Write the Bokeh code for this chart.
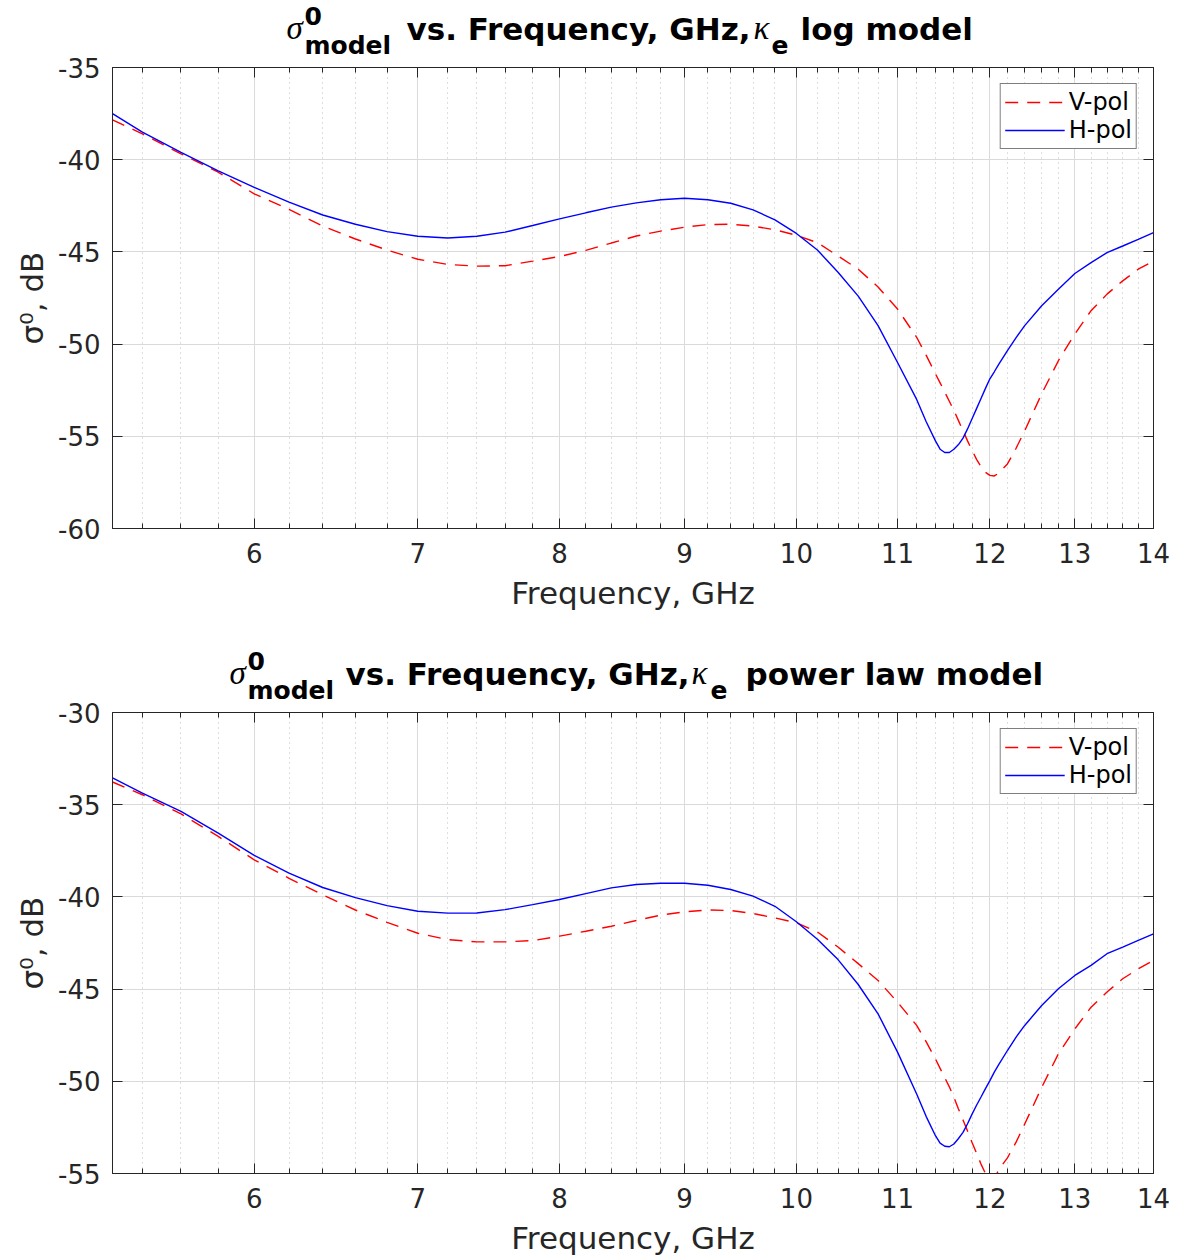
from bokeh.plotting import figure
from bokeh.layouts import column
from bokeh.models import (FixedTicker, LogAxis, LinearAxis, Range1d,
                          Legend, LegendItem, PrintfTickFormatter,
                          CustomJSTickFormatter, ColumnDataSource)
from bokeh.core.properties import value
from bokeh.embed import file_html
from bokeh.resources import INLINE

# ---------------- data ----------------
freq_ghz = [5.25, 5.4, 5.6, 5.8, 6.0, 6.2, 6.4, 6.6, 6.8, 7.0, 7.2, 7.4, 7.6, 7.8,
            8.0, 8.2, 8.4, 8.6, 8.8, 9.0, 9.2, 9.4, 9.6, 9.8, 10.0, 10.2, 10.4,
            10.6, 10.8, 11.0, 11.2, 11.3, 11.4, 11.45, 11.5, 11.55, 11.6, 11.65,
            11.7, 11.75, 11.8, 11.85, 11.9, 11.95, 12.0, 12.05, 12.1, 12.2,
            12.3, 12.4, 12.6, 12.8, 13.0, 13.2, 13.4, 13.6, 13.8, 14.0]

log_vpol = [-37.84, -38.6, -39.68, -40.68, -41.85, -42.7, -43.6, -44.3, -44.9,
            -45.4, -45.68, -45.77, -45.75, -45.5, -45.25, -44.92, -44.52,
            -44.14, -43.87, -43.66, -43.52, -43.5, -43.6, -43.8, -44.1, -44.5,
            -45.22, -45.94, -46.9, -48.1, -49.63, -50.6, -51.61, -52.1, -52.6,
            -53.1, -53.6, -54.15, -54.7, -55.25, -55.76, -56.25, -56.65,
            -56.95, -57.12, -57.15, -57.0, -56.5, -55.65, -54.7, -52.7, -50.9,
            -49.45, -48.19, -47.29, -46.57, -45.94, -45.49]

log_hpol = [-37.5, -38.5, -39.6, -40.6, -41.5, -42.3, -43.0, -43.5, -43.9,
            -44.15, -44.25, -44.15, -43.93, -43.57, -43.21, -42.88, -42.57,
            -42.34, -42.17, -42.09, -42.17, -42.36, -42.72, -43.26, -44.0,
            -44.9, -46.1, -47.4, -49.0, -51.0, -53.0, -54.2, -55.25, -55.7,
            -55.88, -55.88, -55.7, -55.45, -55.1, -54.6, -54.05, -53.5, -52.95,
            -52.4, -51.88, -51.5, -51.1, -50.35, -49.65, -49.0, -47.92, -47.02,
            -46.17, -45.58, -45.04, -44.68, -44.32, -43.95]

pow_vpol = [-33.77, -34.46, -35.5, -36.72, -37.99, -38.99, -39.89, -40.71,
            -41.38, -41.97, -42.32, -42.44, -42.44, -42.37, -42.13, -41.86,
            -41.59, -41.28, -40.99, -40.81, -40.71, -40.74, -40.9, -41.14,
            -41.4, -41.9, -42.72, -43.62, -44.53, -45.71, -46.97, -47.85,
            -48.79, -49.3, -49.8, -50.3, -50.87, -51.5, -52.1, -52.7, -53.32,
            -53.9, -54.49, -55.0, -55.35, -55.3, -54.8, -54.15, -53.3, -52.32,
            -50.33, -48.51, -47.16, -45.98, -45.16, -44.44, -43.9, -43.44]

pow_hpol = [-33.55, -34.37, -35.36, -36.54, -37.75, -38.71, -39.49, -40.04,
            -40.47, -40.78, -40.88, -40.87, -40.69, -40.42, -40.14, -39.82,
            -39.51, -39.33, -39.26, -39.26, -39.37, -39.6, -39.96, -40.51,
            -41.35, -42.3, -43.4, -44.75, -46.34, -48.42, -50.69, -51.9,
            -52.95, -53.35, -53.52, -53.55, -53.4, -53.1, -52.77, -52.3,
            -51.78, -51.3, -50.85, -50.4, -49.96, -49.5, -49.1, -48.33, -47.6,
            -46.97, -45.89, -44.98, -44.26, -43.71, -43.08, -42.72, -42.36,
            -42.0]

x_major_ticks = [6, 7, 8, 9, 10, 11, 12, 13, 14]
x_minor_ticks = [5.4, 5.6, 5.8, 6.2, 6.4, 6.6, 6.8, 7.2, 7.4, 7.6, 7.8,
                 8.2, 8.4, 8.6, 8.8, 9.2, 9.4, 9.6, 9.8, 10.2, 10.4, 10.6,
                 10.8, 11.2, 11.4, 11.6, 11.8, 12.2, 12.4, 12.6, 12.8, 13.2,
                 13.4, 13.6, 13.8]
top_y_ticks = [-60, -55, -50, -45, -40, -35]
bottom_y_ticks = [-55, -50, -45, -40, -35, -30]
legend_labels = ["V-pol", "H-pol"]
x_label = "Frequency, GHz"
y_label = "\u03c3\u2070, dB"
title_sym = "\u03c3"
title_sup = "0"
title_sub = "model"
title_mid = "vs. Frequency, GHz,"
title_kappa = "\u03ba"
title_kappa_sub = "e"
top_title_tail = "log model"
bottom_title_tail = "power law model"

# ---------------- styling ----------------
FONT = "DejaVu Sans"
GREEK = "Liberation Serif"
AX = "#262626"
FRAME_W, FRAME_H = 1041, 461
LEFT, RIGHT = 112, 29
OVERLAP = 30


def make_title(height, page_top, xs, base, tail):
    # frame spans page x LEFT..LEFT+FRAME_W and page y page_top..page_top+height
    t = figure(frame_width=FRAME_W, frame_height=height,
               x_range=Range1d(LEFT, LEFT + FRAME_W),
               y_range=Range1d(page_top + height, page_top),
               output_backend="svg", toolbar_location=None,
               min_border_left=LEFT, min_border_right=RIGHT,
               min_border_top=0, min_border_bottom=0)
    t.axis.visible = False
    t.grid.visible = False
    t.outline_line_color = None
    big, small = 31, 25
    pieces = [
        (title_sym, xs["sigma"], base, GREEK, 33, "italic"),
        (title_sup, xs["sup"], base - 15, FONT, small, "bold"),
        (title_sub, xs["sup"], base + 14, FONT, small, "bold"),
        (title_mid, xs["vs"], base, FONT, big, "bold"),
        (title_kappa, xs["kappa"], base, GREEK, 33, "italic"),
        (title_kappa_sub, xs["e"], base + 14, FONT, small, "bold"),
        (tail, xs["tail"], base, FONT, big, "bold"),
    ]
    for txt, x, y, fnt, size, style in pieces:
        t.text(x=[x], y=[y - 0.38 * size], text=[txt], text_font=value(fnt),
               text_font_size=value(f"{size}px"), text_font_style=style,
               text_color="black", text_align="left",
               text_baseline="alphabetic")
    return t


def make_panel(vpol, hpol, yticks, border_top, border_bottom):
    p = figure(x_axis_type="log", frame_width=FRAME_W, frame_height=FRAME_H,
               x_range=Range1d(5.25, 14), y_range=Range1d(yticks[0], yticks[-1]),
               output_backend="svg", toolbar_location=None,
               min_border_left=LEFT, min_border_right=RIGHT,
               min_border_top=border_top, min_border_bottom=border_bottom,
               background_fill_color="white", border_fill_color=None,
               margin=(-OVERLAP, 0, 0, 0))
    p.outline_line_color = AX
    p.outline_line_width = 1

    xt = FixedTicker(ticks=x_major_ticks, minor_ticks=x_minor_ticks)
    yt = FixedTicker(ticks=yticks, minor_ticks=[])

    def style_axis(ax, labels=True):
        ax.axis_line_color = AX
        ax.major_tick_line_color = AX
        ax.minor_tick_line_color = AX
        ax.major_tick_in = 10
        ax.major_tick_out = 0
        ax.minor_tick_in = 5
        ax.minor_tick_out = 0
        ax.major_label_text_font = FONT
        ax.major_label_text_font_size = "26px"
        ax.major_label_text_color = AX
        if not labels:
            ax.formatter = CustomJSTickFormatter(code="return ''")
            ax.major_label_standoff = 0
            ax.major_label_text_font_size = "0px"

    xa = p.xaxis[0]
    xa.ticker = xt
    xa.formatter = PrintfTickFormatter(format="%d")
    style_axis(xa)
    xa.major_label_standoff = 14
    xa.axis_label = x_label
    xa.axis_label_text_font = FONT
    xa.axis_label_text_font_size = "31px"
    xa.axis_label_text_font_style = "normal"
    xa.axis_label_text_color = AX
    xa.axis_label_standoff = 9

    ya = p.yaxis[0]
    ya.ticker = yt
    ya.formatter = PrintfTickFormatter(format="%d")
    style_axis(ya)
    ya.minor_tick_in = 0
    ya.major_label_standoff = 12
    ya.axis_label = y_label
    ya.axis_label_text_font = FONT
    ya.axis_label_text_font_size = "31px"
    ya.axis_label_text_font_style = "normal"
    ya.axis_label_text_color = AX
    ya.axis_label_standoff = 5

    top_ax = LogAxis(ticker=xt)
    style_axis(top_ax, labels=False)
    p.add_layout(top_ax, "above")
    right_ax = LinearAxis(ticker=yt)
    style_axis(right_ax, labels=False)
    right_ax.minor_tick_in = 0
    p.add_layout(right_ax, "right")

    p.xgrid.ticker = xt
    p.ygrid.ticker = yt
    for g in (p.xgrid[0], p.ygrid[0]):
        g.grid_line_color = "#dadada"
        g.grid_line_width = 1
    p.xgrid.minor_grid_line_color = "#bdbdbd"
    p.xgrid.minor_grid_line_dash = "1 4"
    p.xgrid.minor_grid_line_width = 1

    src = ColumnDataSource(dict(f=freq_ghz, v=vpol, h=hpol))
    rv = p.line("f", "v", source=src, line_color="#ff0000", line_width=1.4,
                line_dash="13 9")
    rh = p.line("f", "h", source=src, line_color="#0000ff", line_width=1.4)

    leg = Legend(items=[LegendItem(label=legend_labels[0], renderers=[rv]),
                        LegendItem(label=legend_labels[1], renderers=[rh])],
                 location="top_right")
    leg.margin = 16
    leg.padding = 4
    leg.spacing = 0
    leg.glyph_width = 60
    leg.glyph_height = 28
    leg.label_height = 28
    leg.label_standoff = 4
    leg.label_text_font = FONT
    leg.label_text_font_size = "24px"
    leg.label_text_color = "black"
    leg.border_line_color = "black"
    leg.border_line_width = 1
    leg.background_fill_color = "white"
    leg.background_fill_alpha = 1
    p.add_layout(leg)
    return p


# page rows: title1 0-62, plot1 overlaps it by OVERLAP (frame top 67),
# title2 629-707, plot2 overlaps it (frame top 712), page ends 1258
t1 = make_title(62, 0,
                dict(sigma=286, sup=304, vs=406, kappa=753, e=771, tail=800),
                40, top_title_tail)
p1 = make_panel(log_vpol, log_hpol, top_y_ticks, 5 + OVERLAP, 101)
t2 = make_title(78, 629,
                dict(sigma=229, sup=247, vs=345, kappa=691, e=710, tail=745),
                685, bottom_title_tail)
p2 = make_panel(pow_vpol, pow_hpol, bottom_y_ticks, 5 + OVERLAP, 85)

layout = column(t1, p1, t2, p2, spacing=0)
open("out.html", "w").write(file_html(layout, INLINE))
